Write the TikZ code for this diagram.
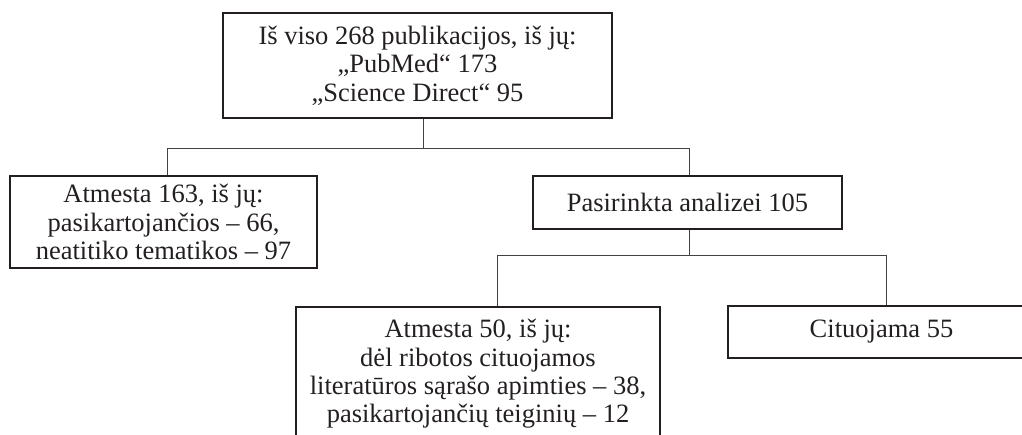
\documentclass[tikz,border=0pt]{standalone}
\usepackage{fontspec}
\setmainfont{Liberation Serif}
\definecolor{ink}{RGB}{35,31,32}
\begin{document}
\begin{tikzpicture}[x=1pt,y=-1pt,
  box/.style={draw=ink, line width=1.4pt, text=ink, align=center, inner sep=0pt,
    font=\fontsize{26.5}{28.4}\selectfont},
  link/.style={draw=ink!85, line width=0.9pt}]
\useasboundingbox (0,0) rectangle (1022,435);
\clip (0,0) rectangle (1022,435);
\node[box, minimum width=389pt, minimum height=105pt] (top) at (417.5,65.5)
  {Iš viso 268 publikacijos, iš jų:\\„PubMed“ 173\\„Science Direct“ 95};
\node[box, minimum width=307pt, minimum height=92pt] (rej1) at (163.5,222)
  {Atmesta 163, iš jų:\\pasikartojančios – 66,\\neatitiko tematikos – 97};
\node[box, minimum width=309pt, minimum height=53pt] (sel) at (687.5,202.5)
  {Pasirinkta analizei 105};
\node[box, minimum width=364pt, minimum height=134pt] (rej2) at (478,374)
  {Atmesta 50, iš jų:\\dėl ribotos cituojamos\\literatūros sąrašo apimties – 38,\\pasikartojančių teiginių – 12};
\node[box, minimum width=307pt, minimum height=52pt] (cit) at (881.5,332)
  {Cituojama 55};
\coordinate (b1) at (423,148);
\coordinate (j1l) at (167,148);
\coordinate (j1r) at (689,148);
\coordinate (j2) at (689,255);
\coordinate (j2l) at (497,255);
\coordinate (j2r) at (886,255);
\draw[link] (top.south -| b1) -- (b1);
\draw[link] (rej1.north -| j1l) -- (j1l) -- (j1r) -- (sel.north -| j1r);
\draw[link] (sel.south -| j2) -- (j2);
\draw[link] (rej2.north -| j2l) -- (j2l) -- (j2r) -- (cit.north -| j2r);
\end{tikzpicture}
\end{document}
